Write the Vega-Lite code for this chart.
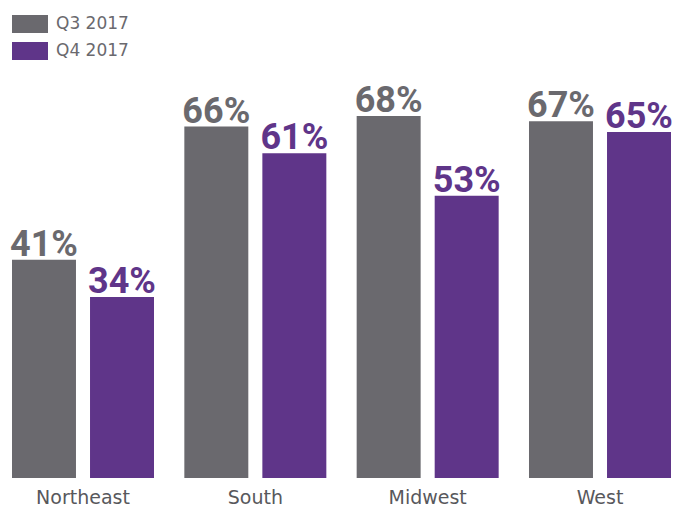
{
  "$schema": "https://vega.github.io/schema/vega-lite/v6.json",
  "autosize": "none",
  "width": 659,
  "height": 426,
  "padding": {"left": 12, "right": 9, "top": 52, "bottom": 30},
  "background": "white",
  "data": {
    "values": [
      {"region": "Northeast", "quarter": "Q3 2017", "value": 0.41},
      {"region": "Northeast", "quarter": "Q4 2017", "value": 0.34},
      {"region": "South", "quarter": "Q3 2017", "value": 0.66},
      {"region": "South", "quarter": "Q4 2017", "value": 0.61},
      {"region": "Midwest", "quarter": "Q3 2017", "value": 0.68},
      {"region": "Midwest", "quarter": "Q4 2017", "value": 0.53},
      {"region": "West", "quarter": "Q3 2017", "value": 0.67},
      {"region": "West", "quarter": "Q4 2017", "value": 0.65}
    ]
  },
  "encoding": {
    "x": {
      "field": "region", "type": "nominal",
      "sort": ["Northeast", "South", "Midwest", "West"],
      "scale": {"paddingInner": 0.176, "paddingOuter": 0},
      "axis": {"title": null, "domain": false, "ticks": false, "labelAngle": 0,
        "labelFont": "DejaVu Sans", "labelFontSize": 19, "labelColor": "#58585c", "labelPadding": 10}
    },
    "xOffset": {"field": "quarter", "type": "nominal", "scale": {"paddingInner": 0.18, "paddingOuter": 0}},
    "y": {"field": "value", "type": "quantitative", "scale": {"domain": [0, 0.8]}, "axis": null}
  },
  "layer": [
    {
      "mark": {"type": "bar"},
      "encoding": {
        "color": {
          "field": "quarter", "type": "nominal",
          "scale": {"domain": ["Q3 2017", "Q4 2017"], "range": ["#6a696e", "#5f3589"]},
          "legend": {
            "title": null, "orient": "none", "legendX": 0, "legendY": -46,
            "symbolType": "M-1,-0.5H1V0.5H-1Z", "symbolSize": 1296, "symbolStrokeWidth": 0, "symbolOpacity": 1,
            "labelFont": "DejaVu Sans", "labelFontSize": 17, "labelColor": "#6a696e", "labelOffset": 8,
            "rowPadding": -8
          }
        }
      }
    },
    {
      "mark": {"type": "text", "baseline": "alphabetic", "dy": -4, "font": "Roboto", "fontWeight": "bold", "fontSize": 36},
      "encoding": {
        "text": {"field": "value", "type": "quantitative", "format": ".0%"},
        "color": {"field": "quarter", "type": "nominal", "legend": null}
      }
    }
  ],
  "config": {"view": {"stroke": null}}
}
